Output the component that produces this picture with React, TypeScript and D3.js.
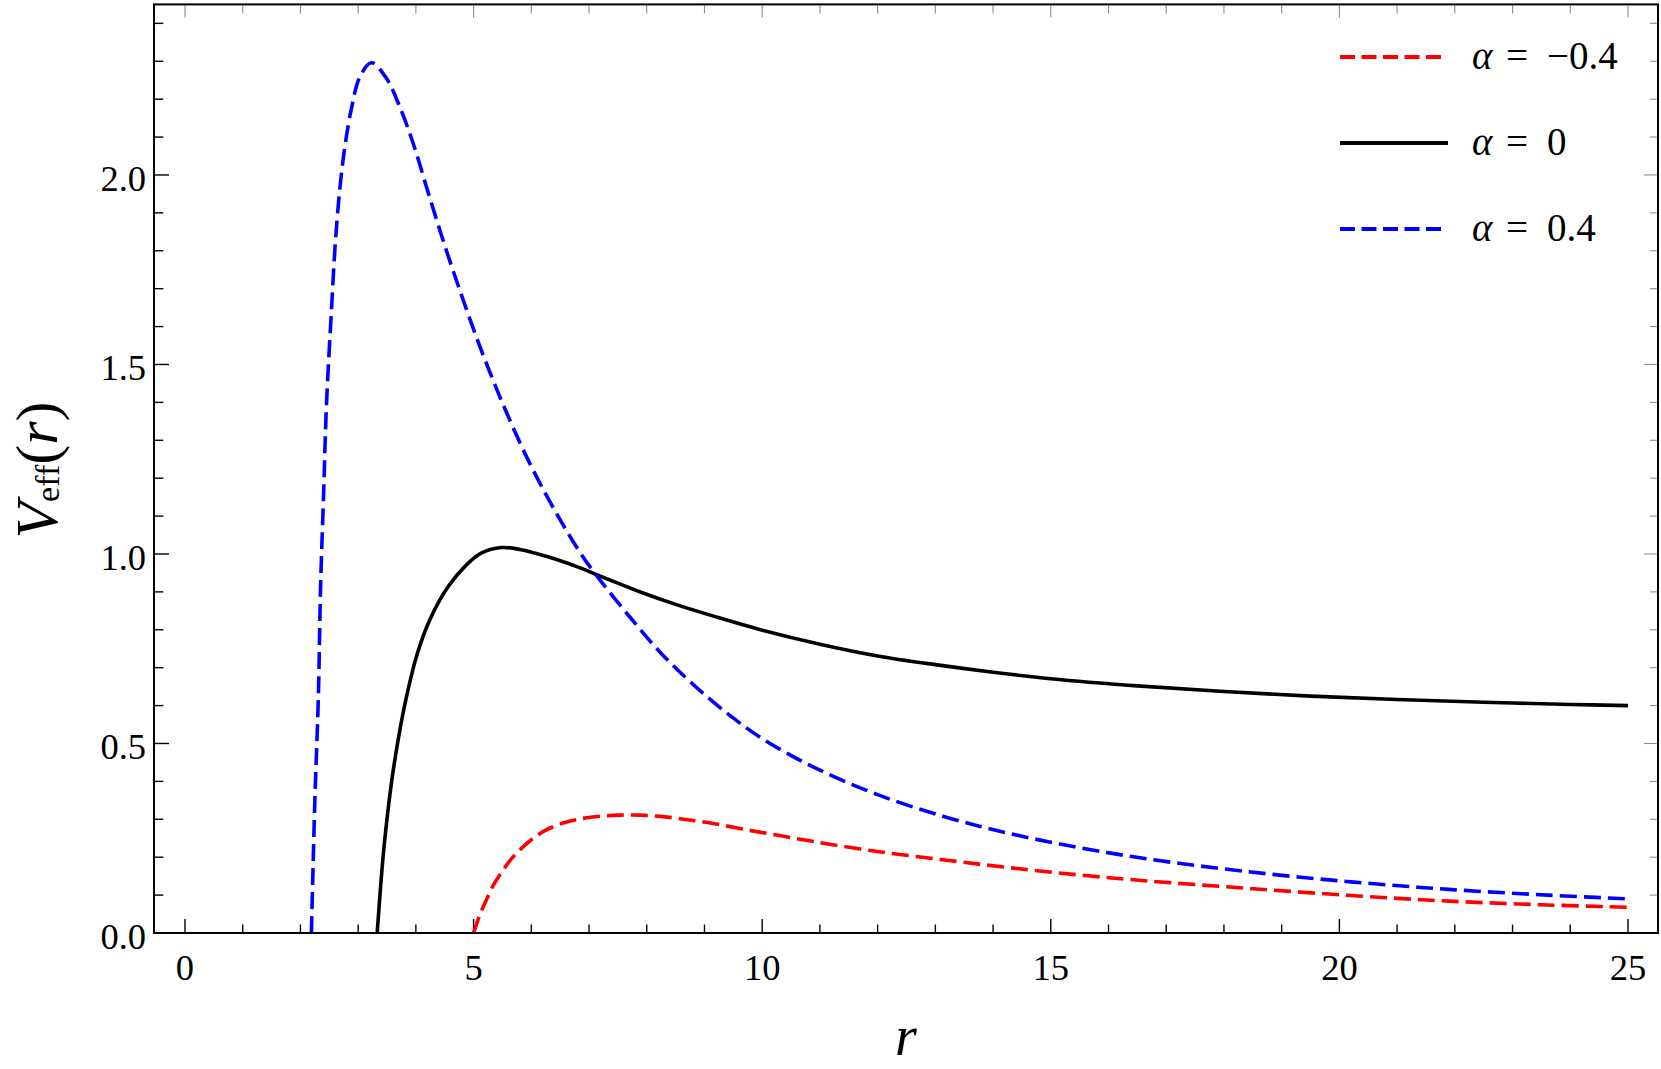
import React from "react";
import * as d3 from "d3";

// ---- Data ----
const rNeg = [5.0, 5.1, 5.22, 5.35, 5.51, 5.68, 5.86, 6.05, 6.26, 6.55, 6.84, 7.2, 7.53, 7.9, 8.28, 8.7, 9.15, 9.7, 10.3, 10.9, 12.0, 13.2, 14.3, 15.5, 16.7, 18.4, 20.2, 21.9, 23.6, 25];
const vNeg = [0, 0.045, 0.087, 0.128, 0.166, 0.2, 0.228, 0.252, 0.272, 0.29, 0.301, 0.308, 0.311, 0.311, 0.307, 0.299, 0.289, 0.273, 0.257, 0.241, 0.215, 0.192, 0.172, 0.153, 0.137, 0.118, 0.099, 0.084, 0.074, 0.068];

const rZero = [3.33, 3.39, 3.45, 3.58, 3.74, 3.85, 4.02, 4.24, 4.56, 4.88, 5.14, 5.48, 5.8, 6.3, 6.8, 7.3, 7.9, 8.5, 9.2, 10, 11, 12, 13, 14, 15, 16.5, 18, 19.5, 21, 22.5, 24, 25];
const vZero = [0, 0.125, 0.23, 0.4, 0.55, 0.632, 0.735, 0.826, 0.914, 0.972, 1.003, 1.017, 1.012, 0.992, 0.966, 0.935, 0.899, 0.867, 0.834, 0.799, 0.762, 0.731, 0.708, 0.688, 0.671, 0.652, 0.637, 0.625, 0.616, 0.609, 0.603, 0.6];

const rPos = [2.19, 2.25, 2.31, 2.35, 2.4, 2.45, 2.54, 2.6, 2.68, 2.77, 2.89, 3.03, 3.23, 3.49, 3.72, 3.95, 4.24, 4.53, 4.82, 5.11, 5.4, 5.68, 5.97, 6.26, 6.55, 6.84, 7.1, 7.7, 8.28, 8.86, 9.44, 10.0, 10.9, 12.0, 13.2, 14.3, 15.5, 16.7, 18.4, 20.2, 21.9, 23.6, 25];
const vPos = [0, 0.35, 0.62, 0.92, 1.15, 1.39, 1.65, 1.81, 1.96, 2.075, 2.18, 2.259, 2.296, 2.255, 2.18, 2.085, 1.94, 1.8, 1.67, 1.547, 1.435, 1.335, 1.24, 1.155, 1.077, 1.005, 0.949, 0.835, 0.733, 0.648, 0.574, 0.513, 0.437, 0.365, 0.305, 0.262, 0.225, 0.195, 0.162, 0.135, 0.115, 0.1, 0.09];

const xMajorTicks = [0, 5, 10, 15, 20, 25];
const xMinorTicks = d3.range(0, 26, 1);
const yMajorTicks = [0, 0.5, 1.0, 1.5, 2.0];
const yMinorTicks = d3.range(0, 25, 1).map((i) => i / 10);

const seriesLabels = ["−0.4", "0", "0.4"];

export default function App() {
  const W = 1661;
  const H = 1069;
  const left = 154, right = 1658, top = 4.4, bottom = 933;
  const x = d3.scaleLinear().domain([-0.537, 25.52]).range([left, right]);
  const y = d3.scaleLinear().domain([0, 2.45]).range([bottom, top]);

  const line = d3
    .line<[number, number]>()
    .x((d) => x(d[0]))
    .y((d) => y(d[1]))
    .curve(d3.curveCatmullRom.alpha(0.5));

  const zip = (a: number[], b: number[]) => a.map((v, i) => [v, b[i]] as [number, number]);

  const series = [
    { data: zip(rNeg, vNeg), color: "#ff0000", dash: "17,7" },
    { data: zip(rZero, vZero), color: "#000000", dash: "" },
    { data: zip(rPos, vPos), color: "#0000ff", dash: "17,7" },
  ];

  const font = "'Liberation Serif', 'Times New Roman', serif";
  const isMajorX = (t: number) => xMajorTicks.includes(t);
  const isMajorY = (t: number) => yMajorTicks.some((m) => Math.abs(m - t) < 1e-9);

  const legendY = [57, 143, 229];

  return (
    <svg
      width={W}
      height={H}
      style={{ position: "absolute", left: 0, top: 0, display: "block", background: "#fff" }}
    >
      <rect x={0} y={0} width={W} height={H} fill="#fff" />
      <defs>
        <clipPath id="plotclip">
          <rect x={left} y={top} width={right - left} height={bottom - top + 2} />
        </clipPath>
      </defs>

      {/* bottom ticks */}
      {xMinorTicks.map((t) => (
        <line
          key={"bx" + t}
          x1={x(t)}
          x2={x(t)}
          y1={bottom}
          y2={bottom - (isMajorX(t) ? 14 : 8.5)}
          stroke="#000"
          strokeWidth={1.4}
        />
      ))}
      {/* top ticks */}
      {xMinorTicks.map((t) => (
        <line
          key={"tx" + t}
          x1={x(t)}
          x2={x(t)}
          y1={top}
          y2={top + (isMajorX(t) ? 13 : 9)}
          stroke="#8c8c8c"
          strokeWidth={1.1}
        />
      ))}
      {/* left ticks */}
      {yMinorTicks.map((t) => (
        <line
          key={"ly" + t}
          x1={left}
          x2={left + (isMajorY(t) ? 15 : 9.3)}
          y1={y(t)}
          y2={y(t)}
          stroke="#000"
          strokeWidth={1.4}
        />
      ))}
      {/* right ticks */}
      {yMinorTicks.map((t) => (
        <line
          key={"ry" + t}
          x1={right}
          x2={right - (isMajorY(t) ? 14 : 8)}
          y1={y(t)}
          y2={y(t)}
          stroke="#8c8c8c"
          strokeWidth={1.1}
        />
      ))}

      {/* curves */}
      <g clipPath="url(#plotclip)">
        {series.map((s, i) => (
          <path
            key={"s" + i}
            d={line(s.data) || ""}
            fill="none"
            stroke={s.color}
            strokeWidth={3.6}
            strokeDasharray={s.dash || undefined}
            strokeLinejoin="round"
          />
        ))}
      </g>

      {/* frame */}
      <rect
        x={left}
        y={top}
        width={right - left}
        height={bottom - top}
        fill="none"
        stroke="#000"
        strokeWidth={2}
      />

      {/* x tick labels */}
      {xMajorTicks.map((t) => (
        <text
          key={"xl" + t}
          x={x(t)}
          y={980}
          textAnchor="middle"
          fontFamily={font}
          fontSize={36.5}
          fill="#000"
        >
          {String(t)}
        </text>
      ))}
      {/* y tick labels */}
      {yMajorTicks.map((t) => (
        <text
          key={"yl" + t}
          x={146}
          y={y(t) + 16}
          textAnchor="end"
          fontFamily={font}
          fontSize={36.5}
          fill="#000"
        >
          {t.toFixed(1)}
        </text>
      ))}

      {/* axis labels */}
      <text x={906} y={1055} textAnchor="middle" fontFamily={font} fontSize={56} fontStyle="italic">
        r
      </text>
      <text
        transform="translate(57,470) rotate(-90)"
        textAnchor="middle"
        fontFamily={font}
        fontSize={60}
      >
        <tspan fontStyle="italic">V</tspan>
        <tspan fontSize={34} dy={2}>eff</tspan>
        <tspan dy={-2}>(</tspan>
        <tspan fontStyle="italic">r</tspan>
        <tspan>)</tspan>
      </text>

      {/* legend */}
      {series.map((s, i) => (
        <g key={"lg" + i}>
          <line
            x1={1340}
            x2={s.dash ? 1442 : 1448}
            y1={legendY[i]}
            y2={legendY[i]}
            stroke={s.color}
            strokeWidth={4}
            strokeDasharray={s.dash ? "15,6.5" : undefined}
          />
          <text x={1472} y={legendY[i] + 12} fontFamily={font} fontSize={39} fill="#000">
            <tspan fontStyle="italic">α</tspan>
            <tspan x={1506}>=</tspan>
            <tspan x={1547}>{seriesLabels[i]}</tspan>
          </text>
        </g>
      ))}
    </svg>
  );
}
